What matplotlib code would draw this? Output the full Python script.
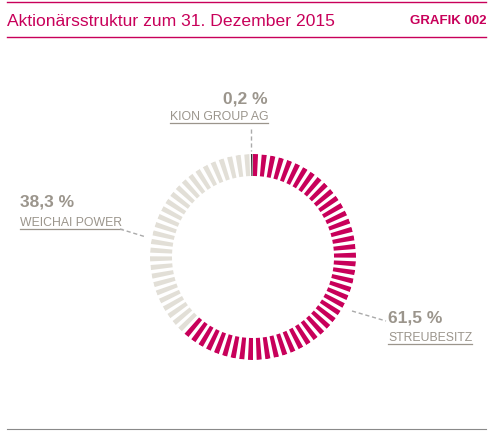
import numpy as np
import matplotlib
matplotlib.use("Agg")
import matplotlib.pyplot as plt

# shareholder structure (percent, clockwise from top)
names = ["STREUBESITZ", "WEICHAI POWER", "KION GROUP AG"]
shares = [61.5, 38.3, 0.2]
pct_labels = ["61,5 %", "38,3 %", "0,2 %"]

MAGENTA = "#C8005A"
BEIGE = "#E2DFD7"
GREY = "#9B958C"
DARK = "#333333"

plt.rcParams["font.family"] = ["Liberation Sans", "DejaVu Sans"]

W, H = 490, 435
fig = plt.figure(figsize=(W / 100, H / 100), dpi=100)

# frame axis in pixel coordinates for text and rules
ax = fig.add_axes([0, 0, 1, 1])
ax.set_xlim(0, W)
ax.set_ylim(H, 0)
ax.axis("off")

ax.plot([7, 486], [3, 3], color=MAGENTA, lw=1)
ax.plot([7, 486], [38, 38], color=MAGENTA, lw=1)
ax.plot([7, 486], [430, 430], color="#8a8a8a", lw=0.8)
ax.text(7, 21, "Aktionärsstruktur zum 31. Dezember 2015", color=MAGENTA,
        fontsize=12.6, va="center", ha="left")
ax.text(486, 21, "GRAFIK 002", color=MAGENTA, fontsize=9.5,
        fontweight="bold", va="center", ha="right")

# donut of stripes
cx, cy, R = 253, 258, 103
pax = fig.add_axes([(cx - R) / W, 1 - (cy + R) / H, 2 * R / W, 2 * R / H],
                   projection="polar")
pax.set_theta_zero_location("N")
pax.set_theta_direction(-1)
pax.set_ylim(0, R)
pax.axis("off")

n = 74
step = 2 * np.pi / n
theta = np.arange(n) * step
bounds = np.cumsum(shares) / 100 * 2 * np.pi
colors = [MAGENTA if t + step * 0.25 < bounds[0] else BEIGE for t in theta]
pax.bar(theta, 22, width=step * 0.58, bottom=R - 22, align="edge",
        color=colors, linewidth=0)
# the tiny KION share
pax.bar([2 * np.pi - 0.02], 22, width=0.014, bottom=R - 22, align="edge",
        color=DARK, linewidth=0)

# labels: (pct x, pct y, label x, label y, align, leader)
lab = [
    (388, 318, 388, 338, "left", [(352, 312), (386, 322)]),
    (20, 202, 20, 223, "left", [(120, 230), (146, 238)]),
    (268, 99, 268, 117, "right", [(251, 130), (251, 152)]),
]
fig.canvas.draw()
r = fig.canvas.get_renderer()
for (px, py, lx, ly, ha, lead), nm, pl in zip(lab, names, pct_labels):
    ax.text(px, py, pl, color=GREY, fontsize=12.5, fontweight="bold",
            ha=ha, va="center")
    t = ax.text(lx, ly, nm, color=GREY, fontsize=8.8, ha=ha, va="center")
    w = t.get_window_extent(r).width
    x0 = lx if ha == "left" else lx - w
    ax.plot([x0, x0 + w], [ly + 7, ly + 7], color=GREY, lw=0.9)
    ax.plot([lead[0][0], lead[1][0]], [lead[0][1], lead[1][1]],
            color="#aaaaaa", lw=1, ls=(0, (3, 2)))

fig.savefig("out.png", dpi=100)
